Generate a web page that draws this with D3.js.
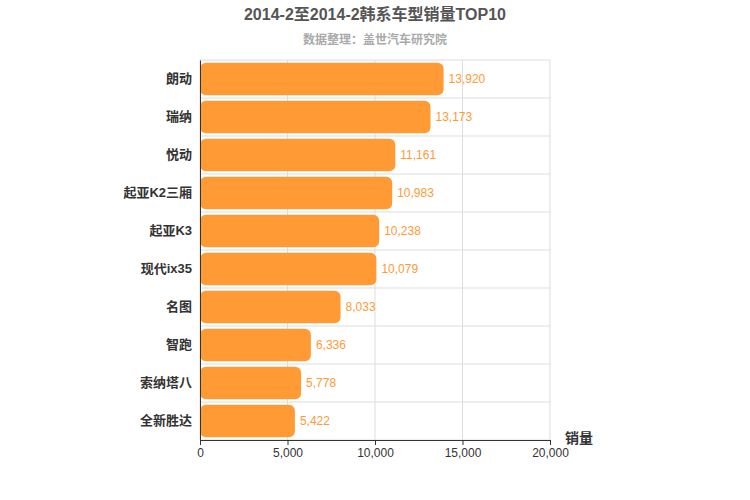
<!DOCTYPE html>
<html><head><meta charset="utf-8">
<script src="https://cdn.jsdelivr.net/npm/d3@7"></script>
<style>body{margin:0;background:#fff;font-family:"Liberation Sans","Noto Sans CJK SC",sans-serif}</style>
</head><body><svg id="c" width="750" height="500"></svg>
<script>
var categories = ["朗动","瑞纳","悦动","起亚K2三厢","起亚K3","现代ix35","名图","智跑","索纳塔八","全新胜达"]
var sales = [13920,13173,11161,10983,10238,10079,8033,6336,5778,5422]
var xTicks = [0,5000,10000,15000,20000]

var svg = d3.select("#c")
var mLeft = 200, mRight = 550, mTop = 60, mBottom = 440

var x = d3.scaleLinear().domain([0,20000]).range([mLeft,mRight])
var y = d3.scaleBand().domain(categories).range([mTop,mBottom]).paddingInner(0.14).paddingOuter(0.07)

// grid
svg.selectAll(".vg").data(xTicks).enter().append("line")
    .attr("x1", d => x(d)).attr("x2", d => x(d)).attr("y1", mTop).attr("y2", mBottom)
    .attr("stroke", "#ddd")
var step = (mBottom - mTop) / categories.length
svg.selectAll(".hg").data(d3.range(categories.length + 1)).enter().append("line")
    .attr("x1", mLeft).attr("x2", mRight).attr("y1", d => mTop + d * step).attr("y2", d => mTop + d * step)
    .attr("stroke", "#ddd")

// bars
svg.selectAll(".bar").data(sales).enter().append("rect")
    .attr("x", mLeft).attr("y", (d,i) => y(categories[i]))
    .attr("width", d => x(d) - mLeft).attr("height", y.bandwidth())
    .attr("rx", 6).attr("fill", "#ff9a35")

svg.selectAll(".val").data(sales).enter().append("text")
    .attr("x", d => x(d) + 5).attr("y", (d,i) => y(categories[i]) + y.bandwidth()/2 + 4)
    .attr("font-size", 12).attr("fill", "#ff9a35")
    .text(d => d3.format(",")(d))

// axes
var xa = svg.append("g").attr("transform", "translate(0," + mBottom + ")")
    .call(d3.axisBottom(x).tickValues(xTicks).tickFormat(d3.format(",")).tickSize(5))
xa.selectAll("text").attr("font-size", 12).attr("fill", "#333").attr("font-family", "Liberation Sans")
xa.selectAll("line,path").attr("stroke", "#333")

var ya = svg.append("g").attr("transform", "translate(" + mLeft + ",0)")
    .call(d3.axisLeft(y).tickSize(0).tickPadding(8))
ya.selectAll("text").attr("font-size", 13).attr("font-weight", "bold").attr("fill", "#333")
    .attr("font-family", "Liberation Sans, Noto Sans CJK SC")
ya.selectAll("path").attr("stroke", "#333")

svg.append("text").attr("x", 375).attr("y", 20).attr("text-anchor", "middle")
    .attr("font-size", 16).attr("font-weight", "bold").attr("fill", "#555")
    .text("2014-2至2014-2韩系车型销量TOP10")
svg.append("text").attr("x", 375).attr("y", 44).attr("text-anchor", "middle")
    .attr("font-size", 12).attr("fill", "#aaa").attr("font-weight", "bold")
    .text("数据整理：盖世汽车研究院")
svg.append("text").attr("x", 565).attr("y", 443)
    .attr("font-size", 14).attr("font-weight", "bold").attr("fill", "#333")
    .text("销量")
</script></body></html>
